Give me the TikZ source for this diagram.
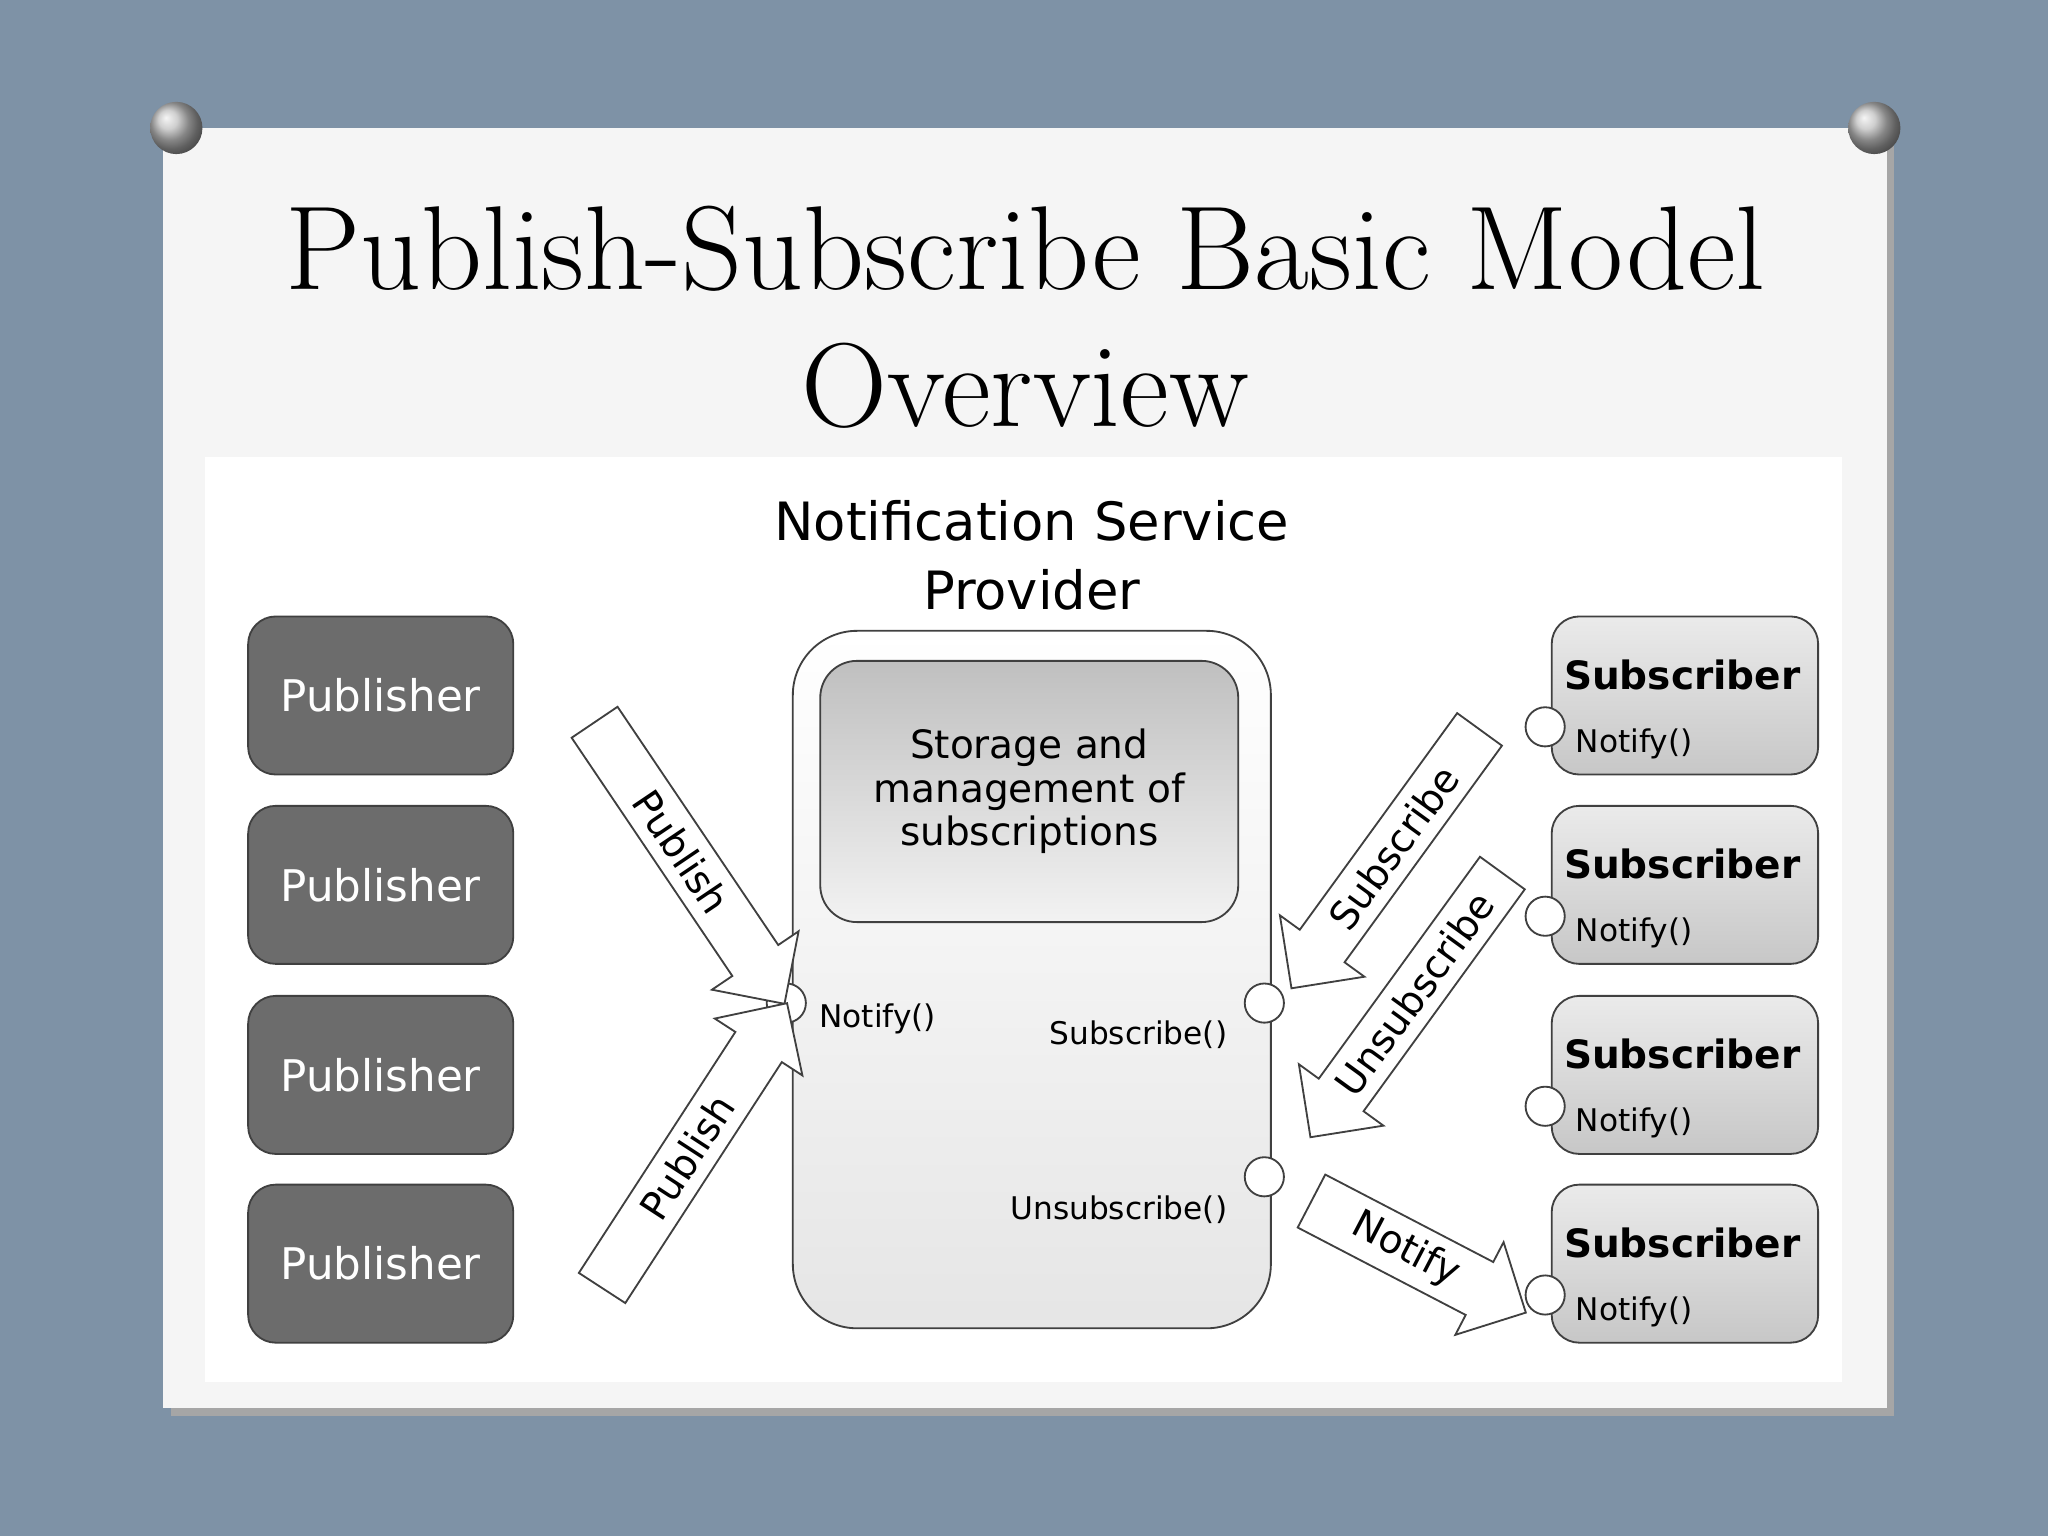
\documentclass[tikz,border=0pt]{standalone}
\usepackage{fontspec}
\newfontfamily\diagfont{DejaVu Sans}
\usetikzlibrary{shapes.arrows,positioning}
\definecolor{slate}{RGB}{126,146,166}
\definecolor{pubgray}{RGB}{108,108,108}
\tikzset{
  pubbox/.style={draw=black!75, rounded corners=6pt, fill=pubgray, minimum width=2.03cm, minimum height=1.21cm, text=white, font=\diagfont\fontsize{9.5}{11}\selectfont},
  subbox/.style={draw=black!75, rounded corners=6pt, top color=white!92!black, bottom color=black!22, minimum width=2.04cm, minimum height=1.21cm},
  port/.style={circle, draw=black!75, fill=white, inner sep=0pt, minimum size=0.3cm},
  smalltext/.style={font=\diagfont\fontsize{6.8}{8}\selectfont},
  blockarrow/.style={single arrow, draw=black!75, fill=white, minimum height=#1, minimum width=0.8cm, single arrow head extend=0.14cm, single arrow head indent=0pt, inner sep=1pt, font=\diagfont\fontsize{8.5}{10}\selectfont}
}
\begin{document}
\begin{tikzpicture}
\useasboundingbox (0,0) rectangle (15.68,11.76);
% background and card
\fill[slate] (0,0) rectangle (15.68,11.76);
\fill[black!35] (1.31,0.92) rectangle (14.50,10.72);
\fill[white!96!black] (1.25,0.98) rectangle (14.45,10.78);
\fill[white] (1.57,1.18) rectangle (14.10,8.26);
% pins
\foreach \px in {1.35,14.35}
  \shade[ball color=black!25] (\px,10.78) circle (0.2);
% title
\node[font=\fontsize{26}{30}\selectfont, align=center] (title) at (7.85,9.33) {Publish-Subscribe Basic Model\\Overview};
% publishers
\node[pubbox] (pub1) at (2.915,11.76-5.325) {Publisher};
\node[pubbox] (pub2) at (2.915,11.76-6.775) {Publisher};
\node[pubbox] (pub3) at (2.915,11.76-8.23) {Publisher};
\node[pubbox] (pub4) at (2.915,11.76-9.675) {Publisher};
% provider
\node[font=\diagfont\fontsize{11.5}{15}\selectfont, align=center] (nsptitle) at (7.9,11.76-4.25) {Notification Service\\Provider};
\node[draw=black!75, rounded corners=14pt, top color=white, bottom color=black!10, minimum width=3.66cm, minimum height=5.34cm] (nsp) at (7.9,11.76-7.5) {};
\node[draw=black!75, rounded corners=8pt, top color=black!25, bottom color=black!5, minimum width=3.2cm, minimum height=2.0cm, align=center, font=\diagfont\fontsize{8.5}{9.5}\selectfont] (storage) at (7.88,11.76-6.06) {Storage and\\management of\\subscriptions};
\node[port] (pnotify) at (6.02,11.76-7.68) {};
\node[smalltext, anchor=west] (lnotify) at (6.15,11.76-7.8) {Notify()};
\node[port] (psub) at (9.68,11.76-7.68) {};
\node[smalltext, anchor=east] (lsub) at (9.52,11.76-7.92) {Subscribe()};
\node[port] (punsub) at (9.68,11.76-9.01) {};
\node[smalltext, anchor=east] (lunsub) at (9.52,11.76-9.26) {Unsubscribe()};
% subscribers
\foreach \i/\py in {1/5.325,2/6.775,3/8.23,4/9.675} {
  \node[subbox] (sub\i) at (12.9,11.76-\py) {};
  \node[font=\diagfont\bfseries\fontsize{8.5}{10}\selectfont] (subl\i) at (12.88,11.76-\py+0.16) {Subscriber};
  \node[port] (subp\i) at (11.83,11.76-\py-0.24) {};
  \node[smalltext, anchor=west] (subn\i) at (11.94,11.76-\py-0.37) {Notify()};
}
% block arrows
\node[blockarrow=2.6cm, rotate=-56] (apub1) at (5.22,5.24) {Publish};
\node[blockarrow=2.6cm, rotate=57] (apub2) at (5.26,2.90) {Publish};
\node[blockarrow=2.45cm, rotate=54, shape border rotate=180] (asub) at (10.67,5.27) {Subscribe};
\node[blockarrow=2.5cm, rotate=54, shape border rotate=180] (aunsub) at (10.83,4.15) {Unsubscribe};
\node[blockarrow=1.85cm, rotate=-27.5] (anotify) at (10.76,2.19) {Notify};
\end{tikzpicture}
\end{document}
